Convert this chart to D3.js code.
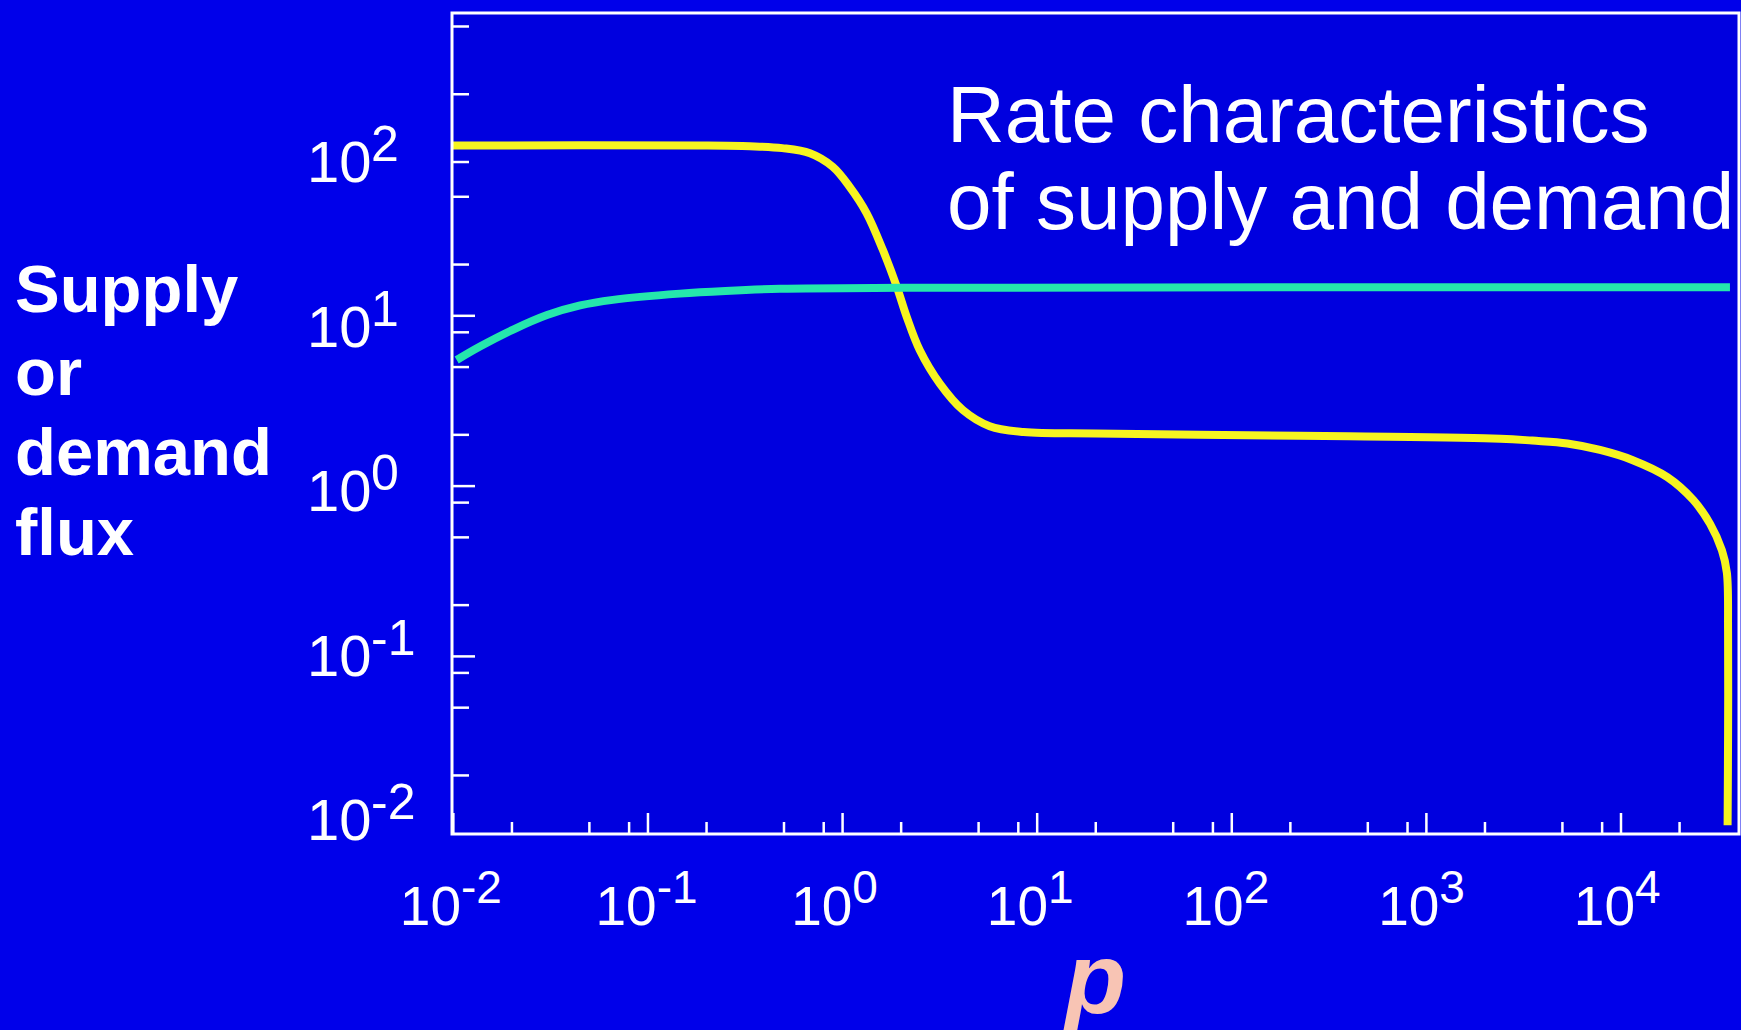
<!DOCTYPE html>
<html>
<head>
<meta charset="utf-8">
<script src="https://cdn.jsdelivr.net/npm/d3@7"></script>
<style>
  html, body { margin: 0; padding: 0; background: #0000ea; overflow: hidden; }
  svg { display: block; }
  text { font-family: "Liberation Sans", Arial, Helvetica, sans-serif; fill: #fff; }
</style>
</head>
<body>
<svg width="1741" height="1030"></svg>
<script>
// supply rate (yellow), falls with p
var supplyP    = [0.00984, 0.185, 0.334, 0.49, 0.68, 0.89, 1.09, 1.33, 1.61, 1.90, 2.14, 2.49, 3.16, 4.15, 5.7, 8.5,
                  20, 68, 400, 2400, 3500, 5300, 7800, 11500, 17300, 23500, 28700, 33000, 35000, 35500, 35500, 35300];
var supplyFlux = [100, 100, 99, 96.5, 90, 75, 57, 40, 24.4, 14.8, 9.8, 6.3, 4.0, 2.8, 2.25, 2.08,
                  2.04, 2.0, 1.96, 1.90, 1.85, 1.78, 1.63, 1.42, 1.13, 0.83, 0.60, 0.42, 0.31, 0.14, 0.035, 0.0102];

// demand rate (cyan), saturates with p
var demandP    = [0.0104, 0.0137, 0.0203, 0.0303, 0.0448, 0.066, 0.146, 0.25, 0.476, 2, 36300];
var demandFlux = [5.5, 6.6, 8.3, 10.1, 11.5, 12.4, 13.5, 14.0, 14.4, 14.6, 14.7];

var xDecades = [-2, -1, 0, 1, 2, 3, 4];
var yDecades = [-2, -1, 0, 1, 2];
var minorSteps = [2, 5, 8];
var titleLines = ["Rate characteristics", "of supply and demand"];
var yTitleLines = ["Supply", "or", "demand", "flux"];
var xTitle = "p";

var svg = d3.select("svg");

var pLeft = 452, pRight = 1739, pTop = 13, pBottom = 834;

var x = d3.scaleLog().domain([0.00984, 40400]).range([pLeft, pRight]);
var y = d3.scaleLog().domain([0.00906, 600]).range([pBottom, pTop]);

// the decade labels were set on the slide a little apart from the plot ticks
var xLabelPos = d3.scaleLinear().domain([-2, 4]).range([461, 1635]);
var yLabelPos = d3.scaleLinear().domain([-2, 2]).range([840, 182]);

function inside(scale) {
  var d = scale.domain();
  return function(v) { return v > d[0] * 1.001 && v < d[1]; };
}

function minors(decades) {
  var out = [];
  decades.forEach(function(e) {
    minorSteps.forEach(function(s) { out.push(s * Math.pow(10, e)); });
  });
  return out;
}

var xMajor = xDecades.map(function(e) { return Math.pow(10, e); }).filter(inside(x));
var xMinor = minors(xDecades).filter(inside(x));
var yMajor = yDecades.map(function(e) { return Math.pow(10, e); }).filter(function(v) { return v > 0.05; });
var yMinor = minors(yDecades).filter(inside(y));

svg.append("rect")
  .attr("x", pLeft).attr("y", pTop)
  .attr("width", pRight - pLeft).attr("height", pBottom - pTop)
  .attr("fill", "#0000df");

var ticks = svg.append("g").attr("stroke", "#fff").attr("stroke-width", 2.5);

ticks.selectAll(".xt")
  .data(xMajor.map(function(v) { return {v: v, len: 21}; })
    .concat(xMinor.map(function(v) { return {v: v, len: 12}; })))
  .enter().append("line")
  .attr("x1", function(d) { return x(d.v); })
  .attr("x2", function(d) { return x(d.v); })
  .attr("y1", pBottom)
  .attr("y2", function(d) { return pBottom - d.len; });

ticks.selectAll(".yt")
  .data(yMajor.map(function(v) { return {v: v, len: 23}; })
    .concat(yMinor.map(function(v) { return {v: v, len: 17}; })))
  .enter().append("line")
  .attr("y1", function(d) { return y(d.v); })
  .attr("y2", function(d) { return y(d.v); })
  .attr("x1", pLeft)
  .attr("x2", function(d) { return pLeft + d.len; });

var line = d3.line()
  .x(function(d) { return x(d[0]); })
  .y(function(d) { return y(d[1]); })
  .curve(d3.curveCatmullRom.alpha(0.5));

svg.append("path")
  .datum(d3.zip(supplyP, supplyFlux))
  .attr("d", line)
  .attr("fill", "none")
  .attr("stroke", "#f6f420")
  .attr("stroke-width", 8);

svg.append("path")
  .datum(d3.zip(demandP, demandFlux))
  .attr("d", line)
  .attr("fill", "none")
  .attr("stroke", "#25e6ac")
  .attr("stroke-width", 8);

// frame
svg.append("path")
  .attr("d", "M" + pLeft + "," + pBottom + "V" + pTop + "H" + pRight + "V" + pBottom + "Z")
  .attr("fill", "none")
  .attr("stroke", "#fff")
  .attr("stroke-width", 3);

// x tick labels
var xl = svg.append("g");
xDecades.forEach(function(e) {
  var px = xLabelPos(e);
  xl.append("text").attr("x", px).attr("y", 925)
    .attr("text-anchor", "end").style("font-size", "55px").text("10");
  xl.append("text").attr("x", px).attr("y", 903)
    .style("font-size", "46px").text(String(e));
});

// y tick labels
var yl = svg.append("g");
yDecades.forEach(function(e) {
  var py = yLabelPos(e);
  yl.append("text").attr("x", 307).attr("y", py)
    .style("font-size", "58px").text("10");
  yl.append("text").attr("x", 371).attr("y", py - 21)
    .style("font-size", "50px").text(String(e));
});

// titles
svg.append("g").selectAll("text")
  .data(titleLines)
  .enter().append("text")
  .attr("x", 947)
  .attr("y", function(d, i) { return 142 + i * 87; })
  .style("font-size", "80px")
  .text(function(d) { return d; });

svg.append("g").selectAll("text")
  .data(yTitleLines)
  .enter().append("text")
  .attr("x", 15)
  .attr("y", function(d, i) { return [312, 395, 475, 555][i]; })
  .style("font-size", "67px")
  .style("font-weight", "bold")
  .text(function(d) { return d; });

svg.append("text")
  .attr("x", (pLeft + pRight) / 2)
  .attr("y", 1013)
  .attr("text-anchor", "middle")
  .style("font-size", "100px")
  .style("font-weight", "bold")
  .style("font-style", "italic")
  .style("fill", "#f8c4b4")
  .text(xTitle);
</script>
</body>
</html>
